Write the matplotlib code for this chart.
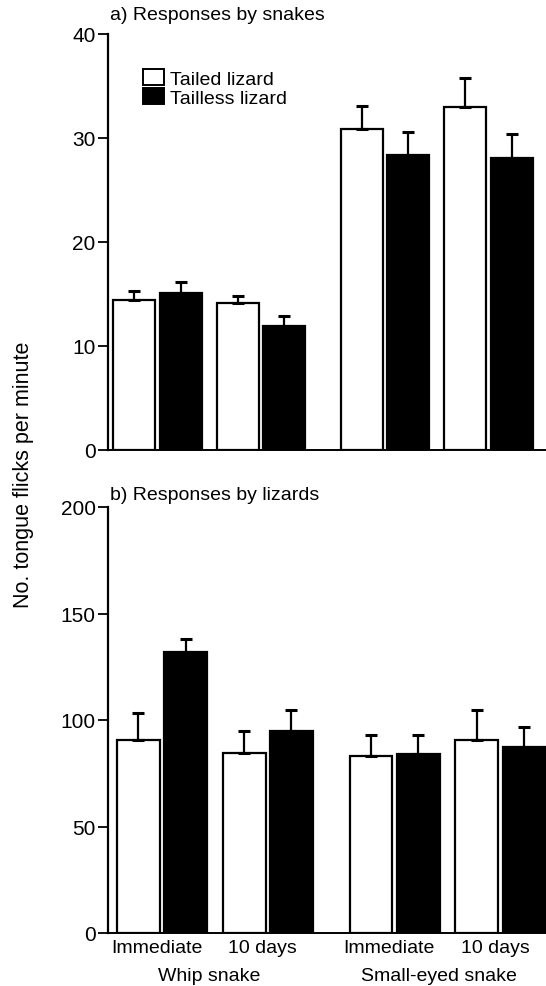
import matplotlib
matplotlib.use("Agg")
import matplotlib.pyplot as plt
from matplotlib.patches import Patch
from matplotlib.transforms import blended_transform_factory
import numpy as np

plt.rcParams['font.family'] = ['Liberation Sans', 'DejaVu Sans']

# ---- data ----
periods = ["Immediate", "10 days", "Immediate", "10 days"]
species = ["Whip snake", "Small-eyed snake"]
series = ["Tailed lizard", "Tailless lizard"]

snakes_tailed = [14.4, 14.1, 30.9, 33.0]
snakes_tailed_se = [0.9, 0.7, 2.2, 2.8]
snakes_tailless = [15.1, 11.9, 28.4, 28.1]
snakes_tailless_se = [1.1, 1.0, 2.2, 2.3]

lizards_tailed = [90.6, 84.4, 83.0, 90.6]
lizards_tailed_se = [12.7, 10.4, 9.9, 14.1]
lizards_tailless = [132.0, 94.8, 84.0, 87.3]
lizards_tailless_se = [6.2, 9.9, 8.9, 9.4]

# ---- layout ----
W, H = 546, 987
fig = plt.figure(figsize=(W / 100, H / 100), dpi=100)

pos = np.array([0.0, 1.0, 2.2, 3.2])
bw = 0.406
off = 0.224
FS = 14
TFS = 15


def px_ax(left, right, top, bottom):
    return [left / W, (H - bottom) / H, (right - left) / W, (bottom - top) / H]


def draw(ax, tailed, tailed_se, tailless, tailless_se, ymax, yticks, xlim):
    x1 = pos - off
    x2 = pos + off
    ax.bar(x1, tailed, width=bw, color="white", edgecolor="black", linewidth=1.6, zorder=2)
    ax.bar(x2, tailless, width=bw, color="black", edgecolor="black", linewidth=1.6, zorder=2)
    for xs, vals, se in ((x1, tailed, tailed_se), (x2, tailless, tailless_se)):
        ax.errorbar(xs, vals, yerr=[np.zeros(len(se)), se], fmt="none", ecolor="black",
                    elinewidth=1.6, capsize=4, capthick=2.2, zorder=3)
    ax.set_ylim(0, ymax)
    ax.set_xlim(*xlim)
    ax.set_yticks(yticks)
    ax.tick_params(axis="y", direction="out", length=7, width=1.3, labelsize=TFS, pad=2)
    for s in ("top", "right"):
        ax.spines[s].set_visible(False)
    ax.spines["left"].set_linewidth(1.6)
    ax.spines["bottom"].set_linewidth(1.4)


ax1 = fig.add_axes(px_ax(108, 546, 35, 451))
draw(ax1, snakes_tailed, snakes_tailed_se, snakes_tailless, snakes_tailless_se,
     40, [0, 10, 20, 30, 40], (-0.478, 3.754))
ax1.set_xticks([])

ax2 = fig.add_axes(px_ax(108, 546, 508, 934))
draw(ax2, lizards_tailed, lizards_tailed_se, lizards_tailless, lizards_tailless_se,
     200, [0, 50, 100, 150, 200], (-0.51, 3.63))
ax2.set_xticks(pos - 0.05)
ax2.set_xticklabels(periods, fontsize=FS)
ax2.tick_params(axis="x", length=0, pad=4)

tr = blended_transform_factory(ax2.transData, fig.transFigure)
ax2.text((pos[0] + pos[1]) / 2 - 0.05, (H - 977) / H, species[0], transform=tr,
         ha="center", va="center", fontsize=FS)
ax2.text((pos[2] + pos[3]) / 2 - 0.08, (H - 977) / H, species[1], transform=tr,
         ha="center", va="center", fontsize=FS)

# legend
handles = [Patch(facecolor="white", edgecolor="black", linewidth=1.4, label=series[0]),
           Patch(facecolor="black", edgecolor="black", linewidth=1.4, label=series[1])]
ax1.legend(handles=handles, loc="upper left", bbox_to_anchor=(0.08, 0.915), frameon=False,
           fontsize=FS, handlelength=1.1, handleheight=0.9, handletextpad=0.3,
           labelspacing=0.0, borderpad=0, borderaxespad=0)

# panel titles
fig.text(110 / W, (H - 16) / H, "a) Responses by snakes", fontsize=FS, ha="left", va="center")
fig.text(110 / W, (H - 496) / H, "b) Responses by lizards", fontsize=FS, ha="left", va="center")

# shared y label
fig.text(24 / W, (H - 475) / H, "No. tongue flicks per minute", rotation=90,
         fontsize=15.5, ha="center", va="center")

fig.savefig("out.png", dpi=100)
